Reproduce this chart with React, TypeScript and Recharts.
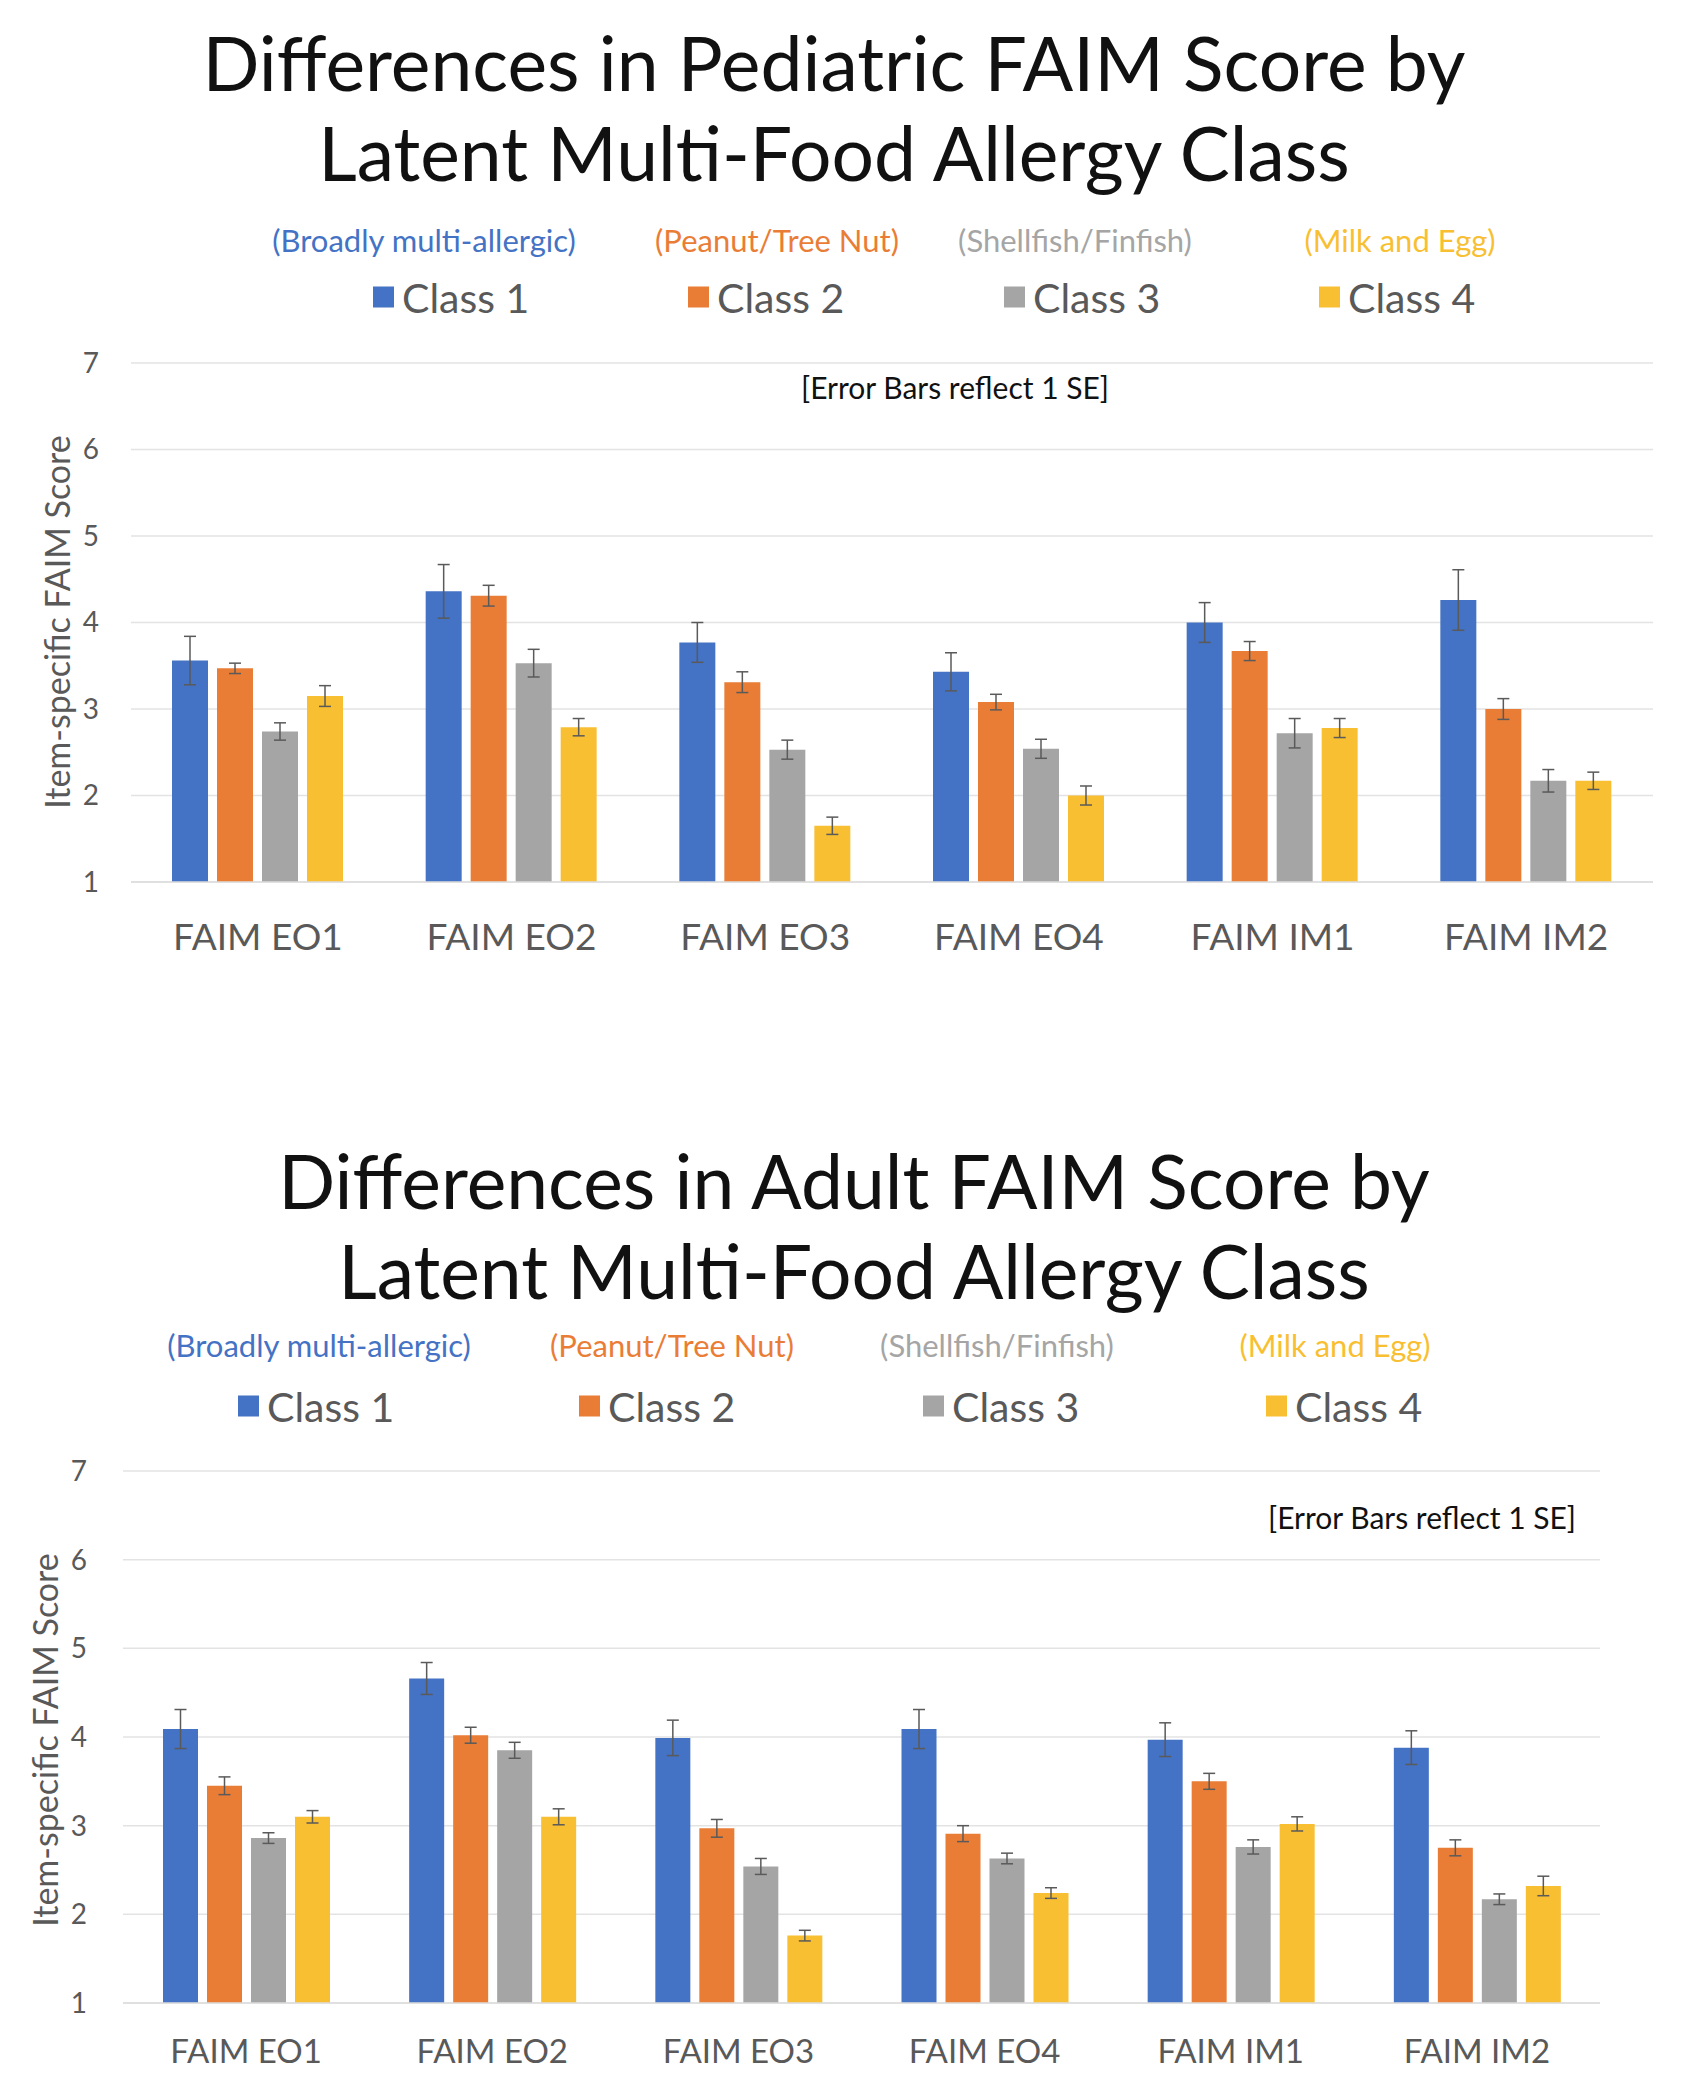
import { BarChart, Bar, XAxis, YAxis, CartesianGrid, ErrorBar } from "recharts";

const categories = ["FAIM EO1", "FAIM EO2", "FAIM EO3", "FAIM EO4", "FAIM IM1", "FAIM IM2"];
const classNames = ["Class 1", "Class 2", "Class 3", "Class 4"];
const classLabels = ["(Broadly multi-allergic)", "(Peanut/Tree Nut)", "(Shellfish/Finfish)", "(Milk and Egg)"];
const yTicks = [1, 2, 3, 4, 5, 6, 7];

// pediatric means and SEs
const pedClass1 = [3.56, 4.36, 3.77, 3.43, 4.0, 4.26];
const pedClass2 = [3.47, 4.31, 3.31, 3.08, 3.67, 3.0];
const pedClass3 = [2.74, 3.53, 2.53, 2.54, 2.72, 2.17];
const pedClass4 = [3.15, 2.79, 1.65, 2.0, 2.78, 2.17];
const pedSe1 = [0.28, 0.31, 0.23, 0.22, 0.23, 0.35];
const pedSe2 = [0.06, 0.12, 0.12, 0.09, 0.11, 0.12];
const pedSe3 = [0.1, 0.16, 0.11, 0.11, 0.17, 0.13];
const pedSe4 = [0.12, 0.1, 0.1, 0.11, 0.11, 0.1];

// adult means and SEs
const adultClass1 = [4.09, 4.66, 3.99, 4.09, 3.97, 3.88];
const adultClass2 = [3.45, 4.02, 2.97, 2.91, 3.5, 2.75];
const adultClass3 = [2.86, 3.85, 2.54, 2.63, 2.76, 2.17];
const adultClass4 = [3.1, 3.1, 1.76, 2.24, 3.02, 2.32];
const adultSe1 = [0.22, 0.18, 0.2, 0.22, 0.19, 0.19];
const adultSe2 = [0.1, 0.09, 0.1, 0.09, 0.09, 0.09];
const adultSe3 = [0.06, 0.09, 0.09, 0.06, 0.08, 0.06];
const adultSe4 = [0.07, 0.09, 0.06, 0.06, 0.08, 0.11];

const colors = ["#4472C4", "#EA7D36", "#A5A5A5", "#F8BF32"];
const FONT = "Lato, 'Open Sans', sans-serif";

function buildRows(means: number[][], ses: number[][]) {
  return categories.map((name, i) => {
    const row: Record<string, string | number> = { name };
    means.forEach((m, k) => {
      row[`c${k + 1}`] = m[i];
      row[`e${k + 1}`] = ses[k][i];
    });
    return row;
  });
}

const pedRows = buildRows(
  [pedClass1, pedClass2, pedClass3, pedClass4],
  [pedSe1, pedSe2, pedSe3, pedSe4]
);
const adultRows = buildRows(
  [adultClass1, adultClass2, adultClass3, adultClass4],
  [adultSe1, adultSe2, adultSe3, adultSe4]
);

type Layout = {
  titleLines: string[];
  titleX: number;
  titleY: number[];
  descY: number;
  descX: number[];
  legendY: number;
  legendX: number[];
  chartTop: number;
  chartHeight: number;
  marginTop: number;
  marginRight: number;
  yAxisWidth: number;
  xAxisHeight: number;
  xFont: number;
  xTickMargin: number;
  yTickMargin: number;
  barSize: number;
  barGap: number;
  axisTitleX: number;
  axisTitleY: number;
  note: { x: number; y: number; align: "center" | "right" };
};

function Centered({ x, y, size, color, children, align = "center", weight = 400 }: any) {
  const shift = align === "center" ? "translate(-50%, -50%)" : align === "right" ? "translate(-100%, -50%)" : "translate(0, -50%)";
  return (
    <div
      style={{
        position: "absolute",
        left: x,
        top: y,
        transform: shift,
        fontSize: size,
        fontWeight: weight,
        color,
        whiteSpace: "nowrap",
        lineHeight: 1.2,
      }}
    >
      {children}
    </div>
  );
}

function Panel({ rows, layout }: { rows: any[]; layout: Layout }) {
  const L = layout;
  return (
    <>
      {L.titleLines.map((t, i) => (
        <Centered key={t} x={L.titleX} y={L.titleY[i]} size={75} color="#111">
          {t}
        </Centered>
      ))}
      {classLabels.map((t, i) => (
        <Centered key={t} x={L.descX[i]} y={L.descY} size={31} color={colors[i]}>
          {t}
        </Centered>
      ))}
      {classNames.map((t, i) => (
        <div
          key={t}
          style={{
            position: "absolute",
            left: L.legendX[i],
            top: L.legendY,
            transform: "translateY(-50%)",
            display: "flex",
            alignItems: "center",
            fontSize: 41,
            color: "#595959",
            whiteSpace: "nowrap",
          }}
        >
          <span style={{ width: 21, height: 21, background: colors[i], marginRight: 8, display: "inline-block" }} />
          {t}
        </div>
      ))}
      <Centered x={L.note.x} y={L.note.y} size={30} color="#111" align={L.note.align}>
        [Error Bars reflect 1 SE]
      </Centered>
      <div
        style={{
          position: "absolute",
          left: L.axisTitleX,
          top: L.axisTitleY,
          transform: "translate(-50%, -50%) rotate(-90deg)",
          fontSize: 34,
          color: "#595959",
          whiteSpace: "nowrap",
        }}
      >
        Item-specific FAIM Score
      </div>
      <div style={{ position: "absolute", left: 0, top: L.chartTop }}>
        <BarChart
          width={1683}
          height={L.chartHeight}
          data={rows}
          margin={{ top: L.marginTop, right: L.marginRight, left: 0, bottom: 0 }}
          barSize={L.barSize}
          barGap={L.barGap}
        >
          <CartesianGrid vertical={false} stroke="#e3e3e3" strokeWidth={1.5} />
          <XAxis
            dataKey="name"
            height={L.xAxisHeight}
            axisLine={{ stroke: "#dcdcdc", strokeWidth: 1.5 }}
            tickLine={false}
            tickMargin={L.xTickMargin}
            tick={{ fill: "#595959", fontSize: L.xFont }}
            interval={0}
          />
          <YAxis
            width={L.yAxisWidth}
            domain={[1, 7]}
            ticks={yTicks}
            axisLine={false}
            tickLine={false}
            tickMargin={L.yTickMargin}
            tick={{ fill: "#595959", fontSize: 28 }}
          />
          {colors.map((c, k) => (
            <Bar key={c} dataKey={`c${k + 1}`} fill={c} isAnimationActive={false}>
              <ErrorBar dataKey={`e${k + 1}`} width={6} stroke="#5a5a5a" strokeWidth={1.5} direction="y" />
            </Bar>
          ))}
        </BarChart>
      </div>
    </>
  );
}

const pedLayout: Layout = {
  titleLines: ["Differences in Pediatric FAIM Score by", "Latent Multi-Food Allergy Class"],
  titleX: 834,
  titleY: [62, 152],
  descY: 241,
  descX: [424, 777, 1075, 1400],
  legendY: 297,
  legendX: [373, 688, 1004, 1319],
  chartTop: 340,
  chartHeight: 640,
  marginTop: 23,
  marginRight: 30,
  yAxisWidth: 131,
  xAxisHeight: 98,
  xFont: 37,
  xTickMargin: 36,
  yTickMargin: 26,
  barSize: 36,
  barGap: 9,
  axisTitleX: 56,
  axisTitleY: 622,
  note: { x: 955, y: 387, align: "center" },
};

const adultLayout: Layout = {
  titleLines: ["Differences in Adult FAIM Score by", "Latent Multi-Food Allergy Class"],
  titleX: 854,
  titleY: [1180, 1270],
  descY: 1346,
  descX: [319, 672, 997, 1335],
  legendY: 1406,
  legendX: [238, 579, 923, 1266],
  chartTop: 1440,
  chartHeight: 653,
  marginTop: 31,
  marginRight: 83,
  yAxisWidth: 123,
  xAxisHeight: 90,
  xFont: 33,
  xTickMargin: 31,
  yTickMargin: 30,
  barSize: 35,
  barGap: 9,
  axisTitleX: 44,
  axisTitleY: 1740,
  note: { x: 1576, y: 1517, align: "right" },
};

export default function App() {
  return (
    <div
      style={{
        position: "absolute",
        left: 0,
        top: 0,
        width: 1683,
        height: 2100,
        background: "#fff",
        fontFamily: FONT,
        overflow: "hidden",
      }}
    >
      <Panel rows={pedRows} layout={pedLayout} />
      <Panel rows={adultRows} layout={adultLayout} />
    </div>
  );
}
